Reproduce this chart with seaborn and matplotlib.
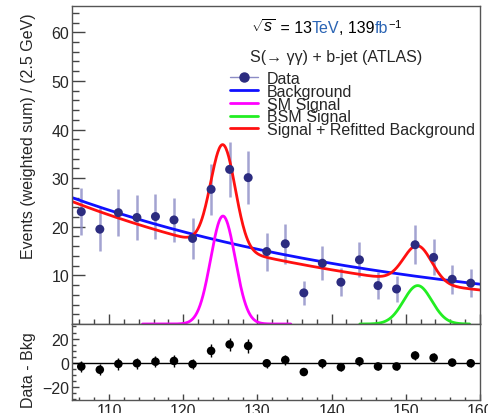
import numpy as np
import pandas as pd
import matplotlib
matplotlib.use("Agg")
import matplotlib.pyplot as plt
import seaborn as sns
from matplotlib.offsetbox import TextArea, HPacker, AnnotationBbox
from matplotlib.lines import Line2D
from matplotlib.ticker import MultipleLocator

# ---------------- data ----------------
mass = [106.25, 108.75, 111.25, 113.75, 116.25, 118.75, 121.25, 123.75,
        126.25, 128.75, 131.25, 133.75, 136.25, 138.75, 141.25, 143.75,
        146.25, 148.75, 151.25, 153.75, 156.25, 158.75]
events = [23.1, 19.5, 22.9, 21.9, 22.1, 21.4, 17.6, 27.7, 31.8, 30.1, 14.9,
          16.5, 6.4, 12.5, 8.6, 13.2, 7.9, 7.2, 16.3, 13.7, 9.2, 8.4]
events_err = [4.8, 4.4, 4.8, 4.7, 4.7, 4.6, 4.2, 5.3, 5.6, 5.5, 3.9, 4.1,
              2.5, 3.5, 2.9, 3.6, 2.8, 2.7, 4.0, 3.7, 3.0, 2.9]
resid = [-3.0, -5.6, -0.8, -0.3, 1.0, 1.6, -1.0, 9.9, 15.2, 14.0, -0.3, 2.4,
         -7.5, -0.3, -3.5, 1.3, -2.9, -2.9, 6.1, 4.3, 0.3, -0.3]
resid_err = [4.8, 4.4, 4.8, 4.7, 4.7, 4.6, 4.2, 5.3, 5.6, 5.5, 3.9, 4.1,
             2.5, 3.5, 2.9, 3.6, 2.8, 2.7, 4.0, 3.7, 3.0, 2.9]

# fitted-model parameters
bkg_norm, bkg_slope = 26.0, -0.0210          # background at 105 GeV, exp slope
refit_norm, refit_slope = 25.2, -0.0233      # refitted background
sm_mass, sm_width, sm_amp = 125.35, 1.65, 22.2
bsm_mass, bsm_width, bsm_amp = 151.6, 1.9, 7.9
refit_sm_amp, refit_bsm_amp = 21.2, 7.6
sm_range = (114.5, 134.5)
bsm_range = (143.8, 158.6)
x_min, x_max = 105.0, 160.0

# ---------------- style ----------------
sns.set_style("white")
plt.rcParams["font.family"] = ["Liberation Sans", "DejaVu Sans"]
plt.rcParams["mathtext.fontset"] = "custom"
plt.rcParams["mathtext.rm"] = "Liberation Sans"
plt.rcParams["mathtext.it"] = "Liberation Sans:italic"

FS = 11.5
C_DATA = "#2c2c80"
C_ERR = "#8c8cc6"

fig = plt.figure(figsize=(4.89, 4.14), dpi=100)
W, H = 489, 414
ax = fig.add_axes([72 / W, 1 - 325 / H, 408 / W, 318 / H])
axr = fig.add_axes([72 / W, 1 - 401 / H, 408 / W, 76 / H], sharex=ax)


def gauss(x, m, s, a):
    return a * np.exp(-0.5 * ((x - m) / s) ** 2)


xs = np.linspace(x_min, x_max, 600)
bkg = bkg_norm * np.exp(bkg_slope * (xs - x_min))
refit = refit_norm * np.exp(refit_slope * (xs - x_min))
total = refit + gauss(xs, sm_mass, sm_width, refit_sm_amp) + gauss(xs, bsm_mass, bsm_width, refit_bsm_amp)
xs_sm = np.linspace(*sm_range, 300)
xs_bsm = np.linspace(*bsm_range, 300)

curves = pd.concat([
    pd.DataFrame({"x": xs, "y": bkg, "c": "Background"}),
    pd.DataFrame({"x": xs_sm, "y": gauss(xs_sm, sm_mass, sm_width, sm_amp), "c": "SM Signal"}),
    pd.DataFrame({"x": xs_bsm, "y": gauss(xs_bsm, bsm_mass, bsm_width, bsm_amp), "c": "BSM Signal"}),
    pd.DataFrame({"x": xs, "y": total, "c": "Signal + Refitted Background"}),
])
palette = {"Background": "#1010ff", "SM Signal": "#ff00ff",
           "BSM Signal": "#22ee22", "Signal + Refitted Background": "#ff1010"}

# error bars first (behind), then curves, then markers
ax.errorbar(mass, events, yerr=events_err, fmt="none", ecolor=C_ERR,
            elinewidth=1.8, alpha=0.8, zorder=1)
sns.lineplot(data=curves, x="x", y="y", hue="c", palette=palette,
             linewidth=2.0, sort=False, estimator=None, units="c",
             legend=False, ax=ax, zorder=2)
sns.scatterplot(x=mass, y=events, color=C_DATA, s=42, edgecolor="none",
                ax=ax, zorder=3)

ax.set_xlim(x_min, x_max)
ax.set_ylim(0, 65.4)
ax.set_xlabel("")
ax.set_ylabel("Events (weighted sum) / (2.5 GeV)", fontsize=FS, loc="top")
ax.yaxis.set_label_coords(-0.088, 0.98)
ax.set_yticks([10, 20, 30, 40, 50, 60])
ax.yaxis.set_minor_locator(MultipleLocator(2))
ax.xaxis.set_major_locator(MultipleLocator(10))
ax.xaxis.set_minor_locator(MultipleLocator(2))
ax.tick_params(axis="y", which="major", direction="in", length=9, width=1,
               labelsize=FS, left=True, right=False, pad=2, color="#444")
ax.tick_params(axis="y", which="minor", direction="in", length=5, width=1,
               left=True, right=False, color="#444")
ax.tick_params(axis="x", which="major", direction="in", length=7, width=1,
               bottom=True, top=False, labelbottom=False, color="#444")
ax.tick_params(axis="x", which="minor", direction="in", length=3.5, width=1,
               bottom=True, top=False, color="#444")

# residual panel
axr.axhline(0, color="black", lw=1.0, zorder=1)
axr.errorbar(mass, resid, yerr=resid_err, fmt="none", ecolor="black",
             elinewidth=1.0, zorder=2)
sns.scatterplot(x=mass, y=resid, color="black", s=38, edgecolor="none",
                ax=axr, zorder=3)
axr.set_ylim(-30.5, 32)
axr.set_xlim(x_min, x_max)
axr.set_xlabel("")
axr.set_ylabel("Data - Bkg", fontsize=FS, loc="top")
axr.yaxis.set_label_coords(-0.088, 0.9)
axr.set_yticks([-20, 0, 20])
axr.yaxis.set_minor_locator(MultipleLocator(5))
axr.set_xticks([110, 120, 130, 140, 150, 160])
axr.xaxis.set_minor_locator(MultipleLocator(2))
axr.tick_params(axis="y", which="major", direction="in", length=5, width=1,
                labelsize=FS, left=True, right=False, pad=2, color="#444")
axr.tick_params(axis="y", which="minor", direction="in", length=3, width=1,
                left=True, right=False, color="#444")
axr.tick_params(axis="x", which="major", direction="in", length=4, width=1,
                labelsize=FS, bottom=True, top=False, pad=2, color="#444")
axr.tick_params(axis="x", which="minor", direction="in", length=2, width=1,
                bottom=True, top=False, color="#444")

for a in (ax, axr):
    for sp in a.spines.values():
        sp.set_color("#555555")
        sp.set_linewidth(1.0)
        sp.set_visible(True)

# legend
handles = [
    Line2D([], [], color=C_ERR, lw=1.0, marker="o", markersize=6.5,
           markerfacecolor=C_DATA, markeredgecolor=C_DATA),
    Line2D([], [], color=palette["Background"], lw=2.0),
    Line2D([], [], color=palette["SM Signal"], lw=2.0),
    Line2D([], [], color=palette["BSM Signal"], lw=2.0),
    Line2D([], [], color=palette["Signal + Refitted Background"], lw=2.0),
]
labels = ["Data", "Background", "SM Signal", "BSM Signal",
          "Signal + Refitted Background"]
ax.legend(handles, labels, loc="upper left",
          bbox_to_anchor=(230 / W, 1 - 72 / H), bbox_transform=fig.transFigure,
          frameon=False, fontsize=FS, borderpad=0, borderaxespad=0,
          handlelength=1.75, handletextpad=0.55, labelspacing=-0.14)

# energy / luminosity label
blue_txt = "#2a64b4"
pieces = [
    TextArea(r"$\sqrt{s}$", textprops=dict(fontsize=FS, color="black")),
    TextArea(" = 13", textprops=dict(fontsize=FS, color="black")),
    TextArea("TeV", textprops=dict(fontsize=FS, color=blue_txt)),
    TextArea(", 139", textprops=dict(fontsize=FS, color="black")),
    TextArea("fb", textprops=dict(fontsize=FS, color=blue_txt)),
    TextArea(r"$^{-1}$", textprops=dict(fontsize=FS, color="black")),
]
pack = HPacker(children=pieces, align="baseline", pad=0, sep=0)
ab = AnnotationBbox(pack, (251 / W, 1 - 36 / H), xycoords="figure fraction",
                    box_alignment=(0, 0), frameon=False, pad=0)
fig.add_artist(ab)
fig.text(250 / W, 1 - 62 / H, "S(→ γγ) + b-jet (ATLAS)", fontsize=FS,
         ha="left", va="baseline")

fig.savefig("out.png", dpi=100)
